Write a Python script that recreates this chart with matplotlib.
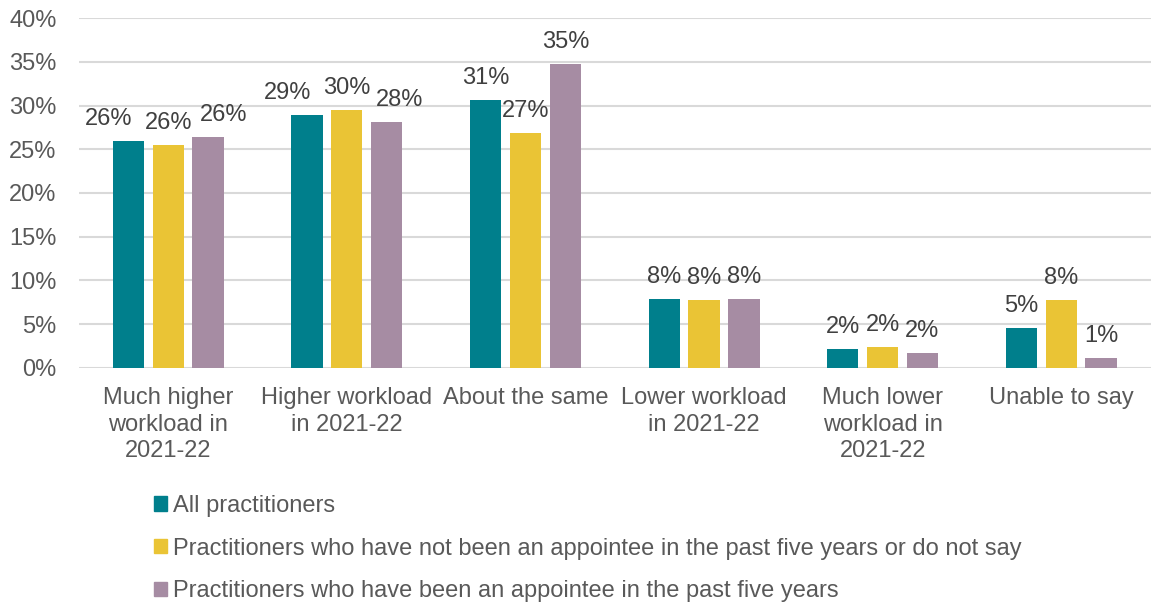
import matplotlib.pyplot as plt
import numpy as np
from matplotlib.patches import Patch

plt.rcParams['font.family'] = ['Liberation Sans', 'DejaVu Sans']

categories = ['Much higher\nworkload in\n2021-22', 'Higher workload\nin 2021-22', 'About the same',
              'Lower workload\nin 2021-22', 'Much lower\nworkload in\n2021-22', 'Unable to say']
series_names = ['All practitioners',
                'Practitioners who have not been an appointee in the past five years or do not say',
                'Practitioners who have been an appointee in the past five years']
all_pract = [25.9, 28.9, 30.6, 7.85, 2.1, 4.6]
not_appointee = [25.5, 29.5, 26.9, 7.8, 2.4, 7.8]
appointee = [26.4, 28.1, 34.7, 7.9, 1.7, 1.1]
colors = ['#007F8C', '#EAC435', '#A68CA3']

# sideways nudge (points) of the value labels so close ones don't collide
nudge = {0: [-14, 0, 11], 1: [-14, 0, 9]}

fig = plt.figure(figsize=(11.51, 6.05), dpi=100)
ax = fig.add_axes([0.0686, 0.392, 0.931, 0.578])

x = np.arange(len(categories))
bar_width = 0.175
step = 0.223

for i, (vals, col) in enumerate(zip([all_pract, not_appointee, appointee], colors)):
    pos = x + (i - 1) * step
    ax.bar(pos, vals, bar_width, color=col, zorder=2)
    for g, (px, v) in enumerate(zip(pos, vals)):
        dx = nudge.get(g, [0, 0, 0])[i]
        ax.annotate(f'{round(v):.0f}%', (px, v), xytext=(dx, 8), textcoords='offset points',
                    ha='center', va='bottom', fontsize=17, color='#404040')

ax.set_xlim(-0.5, 5.5)
ax.set_ylim(0, 40)
ax.set_yticks(np.arange(0, 41, 5))
ax.set_yticklabels([f'{t}%' for t in range(0, 41, 5)])
ax.set_xticks(x)
ax.set_xticklabels(categories, linespacing=1.25)
ax.tick_params(axis='both', length=0, labelsize=17, labelcolor='#595959')
ax.tick_params(axis='y', pad=16)
ax.tick_params(axis='x', pad=14)
ax.grid(axis='y', color='#D9D9D9', linewidth=1.5, zorder=0)
for s in ax.spines.values():
    s.set_visible(False)

handles = [Patch(color=c) for c in colors]
fig.legend(handles, series_names, loc='upper left', bbox_to_anchor=(0.1338, 0.182), frameon=False,
           fontsize=17, labelcolor='#595959', handlelength=0.55, handleheight=0.55,
           handletextpad=0.25, labelspacing=0.88, borderaxespad=0, borderpad=0)

fig.savefig('out.png', dpi=100)
